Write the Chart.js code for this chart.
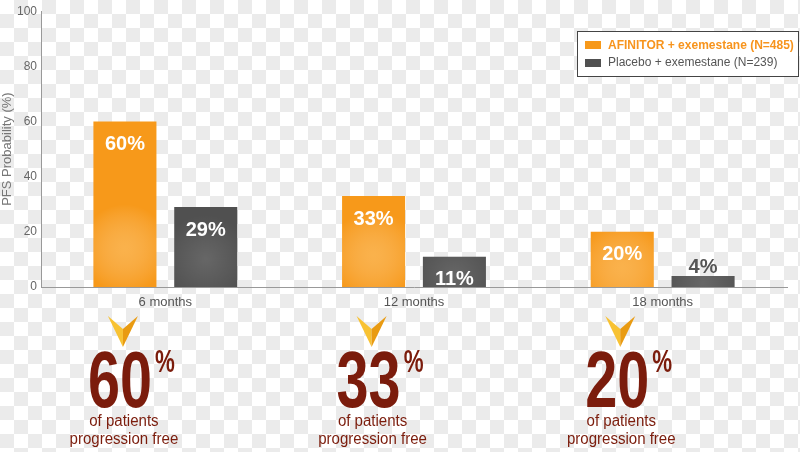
<!DOCTYPE html>
<html lang="en">
<head>
    <meta charset="UTF-8">
    <title>PFS Probability</title>
    <script src="https://cdn.jsdelivr.net/npm/chart.js@4.4.1/dist/chart.umd.min.js"></script>
    <style>
        body { margin: 0; background: #fff; }
        canvas { display: block; }
    </style>
</head>
<body>
    <canvas id="pfsChart" width="800" height="452"></canvas>

    <script>
        // data
        const categories = ['6 months', '12 months', '18 months'];
        const afinitor = [60, 33, 20];
        const placebo = [29, 11, 4];
        const seriesNames = ['AFINITOR + exemestane (N=485)', 'Placebo + exemestane (N=239)'];
        const yTitle = 'PFS Probability (%)';
        const calloutLines = ['of patients', 'progression free'];

        const FONT = '"Liberation Sans", Arial, sans-serif';
        const ORANGE = '#F7991A';
        const GREY = '#505050';
        const MAROON = '#7B1C0C';

        // checkered backdrop, bar shading, labels, legend and callouts
        const decor = {
            id: 'decor',
            beforeDraw(chart) {
                const c = chart.ctx;
                c.save();
                c.fillStyle = '#ffffff';
                c.fillRect(0, 0, chart.width, chart.height);
                c.fillStyle = '#ebebeb';
                for (let y = 0; y < chart.height; y += 14) {
                    for (let x = 0; x < chart.width; x += 14) {
                        if (((x / 14) + (y / 14)) % 2 === 1) c.fillRect(x, y, 14, 14);
                    }
                }
                c.restore();
            },
            afterDatasetsDraw(chart) {
                const c = chart.ctx;
                chart.data.datasets.forEach((ds, di) => {
                    chart.getDatasetMeta(di).data.forEach((bar, i) => {
                        const w = bar.width, left = bar.x - w / 2, top = bar.y, h = bar.base - bar.y;
                        // soft glow near the bottom of each bar
                        c.save();
                        c.beginPath();
                        c.rect(left, top, w, h);
                        c.clip();
                        const gy = bar.base - Math.min(h, 110) * 0.35;
                        const g = c.createRadialGradient(bar.x, gy, 0, bar.x, gy, w * 0.7);
                        g.addColorStop(0, di === 0 ? 'rgba(255,215,150,0.4)' : 'rgba(255,255,255,0.13)');
                        g.addColorStop(1, 'rgba(255,255,255,0)');
                        c.fillStyle = g;
                        c.fillRect(left, top, w, h);
                        c.restore();

                        // value label
                        c.save();
                        c.font = 'bold 20px ' + FONT;
                        c.textAlign = 'center';
                        const txt = ds.data[i] + '%';
                        if (h >= 28) {
                            c.fillStyle = '#ffffff';
                            c.textBaseline = 'middle';
                            c.fillText(txt, bar.x, top + 23);
                        } else {
                            c.fillStyle = '#555555';
                            c.textBaseline = 'alphabetic';
                            c.fillText(txt, bar.x, top - 3);
                        }
                        c.restore();
                    });
                });
            },
            afterDraw(chart) {
                const c = chart.ctx;
                // legend
                c.save();
                c.fillStyle = '#ffffff';
                c.fillRect(577, 31, 221, 45);
                c.strokeStyle = '#444444';
                c.lineWidth = 1;
                c.strokeRect(577.5, 31.5, 221, 45);
                c.textBaseline = 'middle';
                c.textAlign = 'left';
                c.fillStyle = ORANGE;
                c.fillRect(585, 41, 16, 8);
                c.font = 'bold 12px ' + FONT;
                c.fillStyle = '#F7941D';
                c.fillText(chart.data.datasets[0].label, 608, 46);
                c.fillStyle = GREY;
                c.fillRect(585, 59, 16, 8);
                c.font = '12px ' + FONT;
                c.fillStyle = '#555555';
                c.fillText(chart.data.datasets[1].label, 608, 63);
                c.restore();

                // callouts under each group
                const meta = chart.getDatasetMeta(0);
                meta.data.forEach((bar, i) => {
                    const cx = bar.x;
                    c.save();
                    // chevron
                    c.fillStyle = '#F8C232';
                    c.beginPath();
                    c.moveTo(cx - 17, 316);
                    c.lineTo(cx - 2, 329);
                    c.lineTo(cx - 2, 347);
                    c.closePath();
                    c.fill();
                    c.fillStyle = '#E99B12';
                    c.beginPath();
                    c.moveTo(cx + 13, 316);
                    c.lineTo(cx - 2, 329);
                    c.lineTo(cx - 2, 347);
                    c.closePath();
                    c.fill();

                    // big number
                    const num = String(chart.data.datasets[0].data[i]);
                    c.fillStyle = MAROON;
                    c.font = 'bold 80px ' + FONT;
                    const nw = c.measureText(num).width * 0.72;
                    c.save();
                    c.translate(cx - 5, 407);
                    c.scale(0.72, 1);
                    c.textAlign = 'center';
                    c.textBaseline = 'alphabetic';
                    c.fillText(num, 0, 0);
                    c.restore();
                    c.save();
                    c.font = 'bold 31px ' + FONT;
                    c.translate(cx - 5 + nw / 2 + 3, 372);
                    c.scale(0.72, 1);
                    c.textAlign = 'left';
                    c.fillText('%', 0, 0);
                    c.restore();

                    c.font = '16px ' + FONT;
                    c.textAlign = 'center';
                    c.textBaseline = 'middle';
                    c.save();
                    c.translate(cx - 1, 0);
                    c.scale(0.94, 1);
                    c.fillText(calloutLines[0], 0, 422);
                    c.fillText(calloutLines[1], 0, 440);
                    c.restore();
                    c.restore();
                });
            }
        };

        const ctx = document.getElementById('pfsChart').getContext('2d');
        new Chart(ctx, {
            type: 'bar',
            data: {
                labels: categories,
                datasets: [
                    {
                        label: seriesNames[0],
                        data: afinitor,
                        backgroundColor: ORANGE,
                        categoryPercentage: 0.65,
                        barPercentage: 0.78
                    },
                    {
                        label: seriesNames[1],
                        data: placebo,
                        backgroundColor: GREY,
                        categoryPercentage: 0.65,
                        barPercentage: 0.78
                    }
                ]
            },
            options: {
                responsive: false,
                animation: false,
                devicePixelRatio: 1,
                layout: { padding: { top: 10, right: 13, bottom: 141, left: 0 } },
                plugins: {
                    legend: { display: false },
                    tooltip: { enabled: false }
                },
                scales: {
                    x: {
                        grid: { display: false, drawTicks: false },
                        border: { color: '#999999', width: 1 },
                        ticks: { color: '#555555', font: { family: FONT, size: 13 }, padding: 8 },
                        afterFit: s => { s.height = 24; }
                    },
                    y: {
                        min: 0,
                        max: 100,
                        grid: { display: false, drawTicks: false },
                        border: { color: '#999999', width: 1 },
                        ticks: { stepSize: 20, color: '#666666', font: { family: FONT, size: 12 }, padding: 4 },
                        title: {
                            display: true,
                            text: yTitle,
                            color: '#777777',
                            font: { family: FONT, size: 13 },
                            padding: 0
                        },
                        afterFit: s => { s.width = 41; }
                    }
                }
            },
            plugins: [decor]
        });
    </script>
</body>
</html>
